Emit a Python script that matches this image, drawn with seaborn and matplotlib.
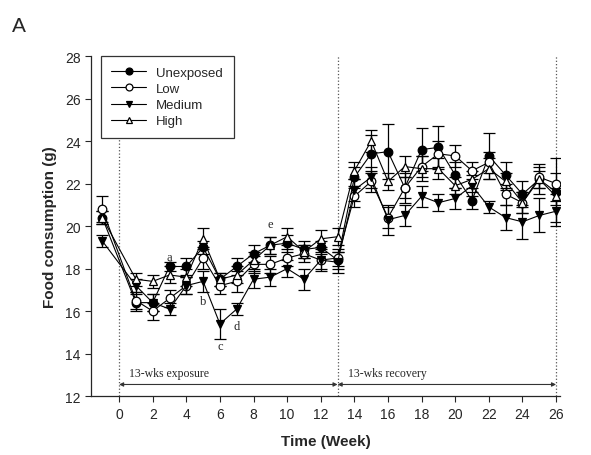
import matplotlib
matplotlib.use("Agg")
import matplotlib.pyplot as plt
import seaborn as sns
import pandas as pd

weeks = [-1, 1, 2, 3, 4, 5, 6, 7, 8, 9, 10, 11, 12, 13,
         14, 15, 16, 17, 18, 19, 20, 21, 22, 23, 24, 25, 26]

unexposed = [20.4, 16.4, 16.4, 18.1, 18.1, 19.0, 17.5, 18.1, 18.7, 19.1, 19.2, 18.9, 19.0, 18.4,
             22.3, 23.4, 23.5, 21.8, 23.6, 23.7, 22.4, 21.2, 23.3, 22.4, 21.5, 22.2, 21.6]
unexposed_err = [0.3, 0.4, 0.4, 0.2, 0.4, 0.3, 0.3, 0.4, 0.4, 0.4, 0.4, 0.4, 0.3, 0.4,
                 0.5, 0.9, 1.3, 0.7, 1.0, 1.0, 0.6, 0.4, 1.1, 0.6, 0.6, 0.7, 1.6]

low = [20.8, 16.5, 16.0, 16.6, 17.2, 18.5, 17.2, 17.4, 18.2, 18.2, 18.5, 18.7, 18.4, 18.5,
       21.4, 22.1, 20.4, 21.8, 22.8, 23.4, 23.3, 22.6, 23.0, 21.5, 21.1, 22.3, 22.0]
low_err = [0.6, 0.4, 0.4, 0.4, 0.4, 0.5, 0.4, 0.5, 0.4, 0.4, 0.4, 0.4, 0.4, 0.4,
           0.5, 0.5, 0.5, 0.5, 0.5, 0.6, 0.5, 0.4, 0.5, 0.5, 0.5, 0.5, 0.5]

medium = [19.3, 17.2, 16.4, 16.1, 17.2, 17.4, 15.4, 16.1, 17.5, 17.6, 18.0, 17.5, 18.4, 18.3,
          21.7, 22.3, 20.3, 20.5, 21.4, 21.1, 21.3, 21.9, 20.9, 20.4, 20.2, 20.5, 20.7]
medium_err = [0.3, 0.3, 0.4, 0.3, 0.4, 0.5, 0.7, 0.3, 0.4, 0.4, 0.4, 0.5, 0.5, 0.5,
              0.5, 0.5, 0.7, 0.5, 0.5, 0.4, 0.5, 0.5, 0.3, 0.6, 0.8, 0.8, 0.5]

high = [20.4, 17.5, 17.4, 17.7, 17.6, 19.4, 17.5, 17.7, 18.4, 19.1, 19.5, 18.8, 19.4, 19.5,
        22.6, 24.0, 22.1, 22.8, 22.7, 22.7, 21.9, 22.2, 22.7, 22.1, 21.1, 22.2, 21.4]
high_err = [0.3, 0.3, 0.3, 0.4, 0.4, 0.5, 0.3, 0.4, 0.4, 0.4, 0.4, 0.3, 0.4, 0.4,
            0.4, 0.5, 0.4, 0.5, 0.6, 0.5, 0.4, 0.4, 0.5, 0.4, 0.5, 0.4, 0.4]

groups = ["Unexposed", "Low", "Medium", "High"]
means = [unexposed, low, medium, high]
errs = [unexposed_err, low_err, medium_err, high_err]
markers = ["o", "o", "v", "^"]
faces = ["black", "white", "black", "white"]

# letters marking significant differences: (week, y, letter)
sig_labels = [(3, 18.55, "a"), (5, 16.5, "b"), (6, 14.35, "c"), (7, 15.3, "d"), (9, 20.1, "e")]

df = pd.concat([pd.DataFrame({"week": weeks, "value": m, "err": e, "group": g})
                for g, m, e in zip(groups, means, errs)])

sns.set_style("ticks")
plt.rcParams["font.family"] = ["Liberation Sans", "DejaVu Sans"]

fig = plt.figure(figsize=(5.91, 4.56), dpi=100)
ax = fig.add_axes([0.154, 0.129, 0.794, 0.746])

for g, mk, fc in zip(groups, markers, faces):
    sub = df[df["group"] == g]
    ax.errorbar(sub["week"], sub["value"], yerr=sub["err"], fmt="none",
                ecolor="black", elinewidth=0.9, capsize=4, capthick=0.9, zorder=2)
    sns.lineplot(data=sub, x="week", y="value", ax=ax, color="black", lw=0.8,
                 marker=mk, markersize=6.2, markerfacecolor=fc, markeredgecolor="black",
                 markeredgewidth=0.9, label=g, zorder=3)

for w, y, s in sig_labels:
    ax.text(w, y, s, ha="center", va="center", fontsize=9, family="Liberation Serif")

# phase markers
ax.plot([0, 0], [12, 24.1], ls=":", color="#555555", lw=0.9, zorder=1)
ax.plot([13, 13], [12, 28], ls=":", color="#555555", lw=0.9, zorder=1)
ax.plot([26, 26], [12, 28], ls=":", color="#555555", lw=0.9, zorder=1)
arrow = dict(arrowstyle="<|-|>", color="#333333", lw=0.8, mutation_scale=6, shrinkA=0, shrinkB=0)
ax.annotate("", xy=(0, 12.55), xytext=(13, 12.55), arrowprops=arrow)
ax.annotate("", xy=(13, 12.55), xytext=(26, 12.55), arrowprops=arrow)
ax.text(0.6, 13.1, "13-wks exposure", fontsize=8.5, family="Liberation Serif", va="center")
ax.text(13.6, 13.1, "13-wks recovery", fontsize=8.5, family="Liberation Serif", va="center")

ax.set_xlim(-1.67, 26.25)
ax.set_ylim(12, 28)
ax.set_xticks(range(0, 27, 2))
ax.set_yticks(range(12, 29, 2))
ax.tick_params(labelsize=10, length=4, width=0.8, direction="out")
for sp in ["left", "bottom"]:
    ax.spines[sp].set_linewidth(0.9)
sns.despine(ax=ax)

ax.set_xlabel("Time (Week)", fontsize=11, fontweight="bold", labelpad=10)
ax.set_ylabel("Food consumption (g)", fontsize=11, fontweight="bold", labelpad=6)

leg = ax.legend(loc="upper left", bbox_to_anchor=(0.021, 1.0), fontsize=9.5, frameon=True,
                fancybox=False, edgecolor="black", handlelength=2.6, markerscale=0.8,
                borderpad=0.8, labelspacing=0.3, borderaxespad=0)
leg.get_frame().set_linewidth(0.9)

fig.text(0.02, 0.93, "A", fontsize=15)

fig.savefig("out.png", dpi=100)
